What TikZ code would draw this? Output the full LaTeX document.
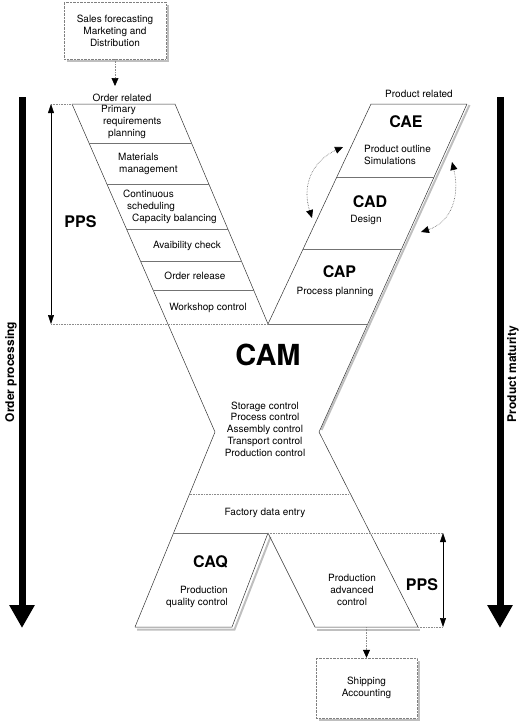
\documentclass[tikz,border=0pt]{standalone}
\usepackage{fontspec}
\setmainfont{TeX Gyre Heros}
\usetikzlibrary{arrows.meta}

\begin{document}
\begin{tikzpicture}[x=1pt,y=-1pt]
  \tikzstyle{txt}=[font=\fontsize{10}{12}\selectfont,inner sep=0pt,align=center]
  \tikzstyle{capname}=[font=\fontsize{16}{18}\selectfont\bfseries,inner sep=0pt]
  \tikzstyle{sidetxt}=[font=\fontsize{12}{14}\selectfont\bfseries,inner sep=0pt,rotate=90]
  \tikzstyle{xline}=[draw=black!80,line width=0.5pt,line join=round]
  \tikzstyle{stripline}=[draw=black!55,line width=0.5pt]
  \tikzstyle{dotline}=[draw=black!45,densely dotted,line width=0.6pt]
  \tikzstyle{dropshade}=[draw=black!25,line width=2pt]
  \tikzstyle{outbox}=[txt,draw=black!50,densely dotted,fill=white,minimum width=102pt,minimum height=57pt]
  \tikzstyle{flowarrow}=[dotline,-{Triangle[length=8pt,width=7pt,color=black]}]
  \tikzstyle{loopflow}=[dotline,draw=black!65,{Triangle[length=8pt,width=7pt,color=black]}-{Triangle[length=8pt,width=7pt,color=black]}]
  \tikzstyle{ppsarrow}=[draw=black,line width=0.5pt,{Triangle[length=9pt,width=6pt]}-{Triangle[length=9pt,width=6pt]}]
  \tikzstyle{bigarrow}=[draw=black,line width=7pt,-{Triangle[length=23pt,width=24pt]}]

  \useasboundingbox (0,0) rectangle (525,721);

  \coordinate (LA1) at (72,104);
  \coordinate (LA2) at (175,104);
  \coordinate (V) at (268,324);
  \coordinate (RA1) at (371,104);
  \coordinate (RA2) at (467,104);
  \coordinate (RB) at (368,324);
  \coordinate (PL) at (215,432);
  \coordinate (PR) at (319,432);
  \coordinate (QL) at (135,627);
  \coordinate (QR) at (232,627);
  \coordinate (W) at (268,533);
  \coordinate (AL) at (315,627);
  \coordinate (AR) at (418,627);
  \coordinate (FL) at (174,533);
  \coordinate (FR) at (370,533);

  \draw[dropshade] (469.5,105) -- (321.5,430);
  \draw[dropshade] (270.5,537) -- (234.5,629.5) -- (137,629.5);
  \draw[dropshade] (317,629.5) -- (420,629.5);
  \draw[dropshade] (168,5) -- (168,61) -- (67,61);
  \draw[dropshade] (419,661) -- (419,720) -- (319,720);

  \draw[xline] (LA1) -- (LA2) -- (V) -- (RA1) -- (RA2) -- (PR) -- (AR) -- (AL)
    -- (W) -- (QR) -- (QL) -- (PL) -- cycle;

  \draw[stripline] (89,143) -- (191.5,143);
  \draw[stripline] (107,184) -- (209,184);
  \draw[stripline] (126.5,229) -- (228,229);
  \draw[stripline] (140.5,261) -- (241.5,261);
  \draw[stripline] (153,290) -- (253.5,290);
  \draw[stripline] (337,177) -- (434,177);
  \draw[stripline] (303,249) -- (401.5,249);
  \draw[stripline] (V) -- (RB);
  \draw[stripline] (FL) -- (W);

  \draw[dotline] (51,104) -- (LA1);
  \draw[dotline] (51,324) -- (V);
  \draw[dotline] (189.5,494) -- (350.5,494);
  \draw[dotline] (W) -- (443,533);
  \draw[dotline] (AR) -- (443,627);

  \coordinate (ppsTop) at (51,104);
  \coordinate (ppsBot) at (51,324);
  \coordinate (ppsTop2) at (443,533);
  \coordinate (ppsBot2) at (443,627);
  \draw[ppsarrow] (ppsTop) -- (ppsBot);
  \draw[ppsarrow] (ppsTop2) -- (ppsBot2);

  \node[outbox] (sales) at (115,30.5) {Sales forecasting\\Marketing and\\Distribution};
  \node[outbox,minimum width=101pt,minimum height=60pt] (ship) at (366.5,688) {Shipping\\Accounting};
  \coordinate (salesin) at (115,86);
  \coordinate (pacout) at (366.5,627);
  \draw[flowarrow] (sales.south) -- (salesin);
  \draw[flowarrow] (pacout) -- (ship.north);

  \coordinate (caeA) at (343,147);
  \coordinate (cadA) at (312,218);
  \coordinate (caeB) at (452,162);
  \coordinate (cadB) at (421,232);
  \draw[loopflow] (cadA) .. controls (300,180) and (318,158) .. (caeA);
  \draw[loopflow] (caeB) .. controls (460,195) and (452,222) .. (cadB);

  \coordinate (opTop) at (22,97);
  \coordinate (opEnd) at (22,628);
  \coordinate (pmTop) at (500,97);
  \coordinate (pmEnd) at (500,628);
  \draw[bigarrow] (opTop) -- (opEnd);
  \draw[bigarrow] (pmTop) -- (pmEnd);
  \node[sidetxt] (ordproc) at (11,372) {Order processing};
  \node[sidetxt] (prodmat) at (513,374) {Product maturity};

  \node[txt] (ordrel) at (122,98) {Order related};
  \node[txt] (prodrel) at (419,94) {Product related};
  \node[txt,align=left,anchor=west] (primary) at (101,122) {Primary\\\hspace*{2pt}requirements\\\hspace*{7pt}planning};
  \node[txt,align=left,anchor=west] (material) at (118,164) {Materials\\\hspace*{1pt}management};
  \node[txt,align=left,anchor=west] (sched) at (123,207) {Continuous\\\hspace*{4pt}scheduling\\\hspace*{9pt}Capacity balancing};
  \node[txt] (avail) at (187,246) {Avaibility check};
  \node[txt] (release) at (195,276) {Order release};
  \node[txt] (workshop) at (208,308) {Workshop control};
  \node[capname] (pps1) at (80.5,222) {PPS};

  \node[capname] (cae) at (406,122) {CAE};
  \node[txt,align=left,anchor=west] (outline) at (364,155) {Product outline\\Simulations};
  \node[capname] (cad) at (370,202) {CAD};
  \node[txt] (design) at (366,220) {Design};
  \node[capname] (cap) at (339.5,272) {CAP};
  \node[txt] (procplan) at (335,292) {Process planning};

  \node[font=\fontsize{29}{32}\selectfont\bfseries,inner sep=0pt] (cam) at (268,355) {CAM};
  \node[txt,font=\fontsize{10}{11.7}\selectfont] (camlist) at (265,429) {Storage control\\Process control\\Assembly control\\Transport control\\Production control};
  \node[txt] (factory) at (265,513) {Factory data entry};

  \node[capname] (caq) at (210.5,562) {CAQ};
  \node[txt,align=right,anchor=east] (quality) at (228,597) {Production\\quality control};
  \node[txt] (advanced) at (352,590) {Production\\advanced\\control};
  \node[capname] (pps2) at (422,585) {PPS};

\end{tikzpicture}
\end{document}
